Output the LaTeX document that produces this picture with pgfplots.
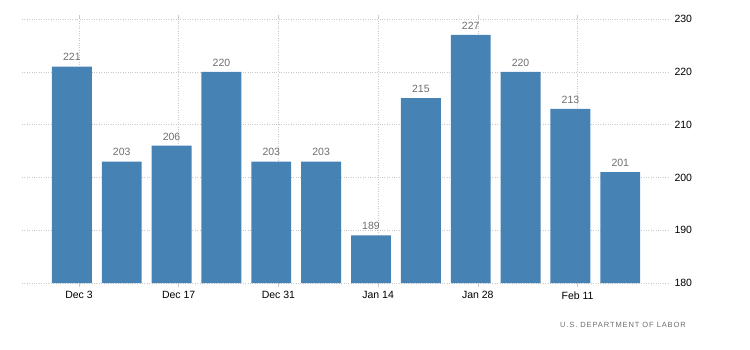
\documentclass[border=0pt]{standalone}
\usepackage{pgfplots}
\pgfplotsset{compat=1.18}
\usepackage{fontspec}
\setmainfont{Liberation Sans}
\newfontfamily\srcfont[LetterSpace=12]{Liberation Sans}
\definecolor{barblue}{HTML}{4682B4}
\definecolor{gridgray}{HTML}{C8C8C8}
\definecolor{lblgray}{HTML}{6E6E6E}
\begin{document}
\begin{tikzpicture}[x=1pt,y=1pt]
\useasboundingbox (-22,-66) rectangle (728,283);
\begin{axis}[
  at={(0,0)}, anchor=south west,
  scale only axis, width=646pt, height=264pt,
  xmin=-8, xmax=82.7, ymin=180, ymax=230,
  ybar, bar width=5.6,
  axis line style={draw=none},
  /pgf/number format/assume math mode=true,
  xtick={0,14,28,42,56,70},
  xticklabels={Dec 3,Dec 17,Dec 31,Jan 14,Jan 28,Feb 11},
  ytick={180,190,200,210,220,230},
  yticklabel pos=right,
  grid=major,
  major grid style={gridgray, dotted, line width=0.6pt},
  tick align=outside,
  xtick style={draw=gridgray, line width=0.6pt},
  x tick label style={font=\fontsize{10.5}{12}\selectfont, text=black, yshift=-1pt},
  y tick label style={font=\fontsize{10.5}{12}\selectfont, text=black, anchor=west, xshift=-1pt},
  ytick style={draw=none},
  major tick length=4pt,
  nodes near coords,
  every node near coord/.append style={font=\fontsize{10.5}{12}\selectfont, text=lblgray, yshift=2pt},
  clip=false,
]
\addplot[fill=barblue, draw=none] coordinates {
(-1,221) (6,203) (13,206) (20,220) (27,203) (34,203)
(41,189) (48,215) (55,227) (62,220) (69,213) (76,201)};
\node[anchor=east, font=\fontsize{7.5}{9}\selectfont\srcfont, text=lblgray, inner sep=0pt]
  at ([xshift=18pt,yshift=-42pt]axis description cs:1,0) {U.S. DEPARTMENT OF LABOR};
\end{axis}
\end{tikzpicture}
\end{document}
